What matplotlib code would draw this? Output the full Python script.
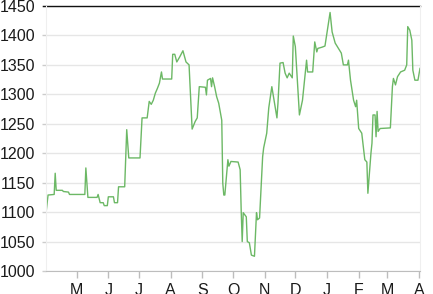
import pandas as pd
import matplotlib
matplotlib.use("Agg")
import matplotlib.pyplot as plt
import matplotlib.dates as mdates
from matplotlib.lines import Line2D

# day offsets from the first date
start_date = "2012-04-01"
day_offsets = [
    0, 2, 8, 9, 10, 16, 17, 22, 23, 38, 39, 41, 50, 51, 53, 56, 57, 60, 61, 66,
    67, 70, 71, 77, 78, 79, 81, 92, 94, 99, 101, 103, 105, 107, 109, 111, 113, 114, 123, 124,
    126, 128, 131, 134, 137, 140, 142, 143, 146, 148, 150, 156, 157, 158, 161, 162, 163, 165, 167, 169,
    172, 173, 174, 175, 178, 179, 181, 188, 190, 191, 192, 193, 196, 197, 199, 201, 204, 206, 207, 209,
    212, 213, 216, 218, 221, 226, 227, 229, 232, 234, 236, 238, 241, 242, 244, 248, 251, 255, 256, 261,
    263, 265, 266, 270, 273, 278, 280, 283, 289, 291, 295, 296, 298, 301, 303, 304, 306, 309, 312, 314,
    315, 318, 319, 320, 322, 323, 324, 325, 327, 337, 339, 340, 342, 344, 347, 351, 353, 354, 356, 358,
    359, 361, 364, 366,
]
prices = [
    1098, 1129, 1130, 1166, 1137, 1137, 1135, 1134, 1130, 1130, 1175, 1125, 1125, 1130, 1116, 1116, 1111, 1111, 1126, 1126,
    1116, 1116, 1143, 1143, 1190, 1240, 1192, 1192, 1260, 1260, 1288, 1283, 1290, 1302, 1310, 1319, 1338, 1326, 1326, 1368,
    1368, 1355, 1364, 1374, 1355, 1350, 1279, 1241, 1254, 1260, 1313, 1312, 1299, 1324, 1327, 1313, 1328, 1313, 1296, 1285,
    1256, 1149, 1129, 1129, 1189, 1178, 1186, 1185, 1172, 1104, 1050, 1099, 1092, 1050, 1048, 1027, 1025, 1099, 1087, 1090,
    1194, 1209, 1234, 1277, 1313, 1260, 1285, 1353, 1354, 1336, 1328, 1336, 1328, 1399, 1381, 1265, 1290, 1358, 1338, 1338,
    1389, 1372, 1378, 1380, 1382, 1439, 1406, 1387, 1370, 1350, 1350, 1358, 1324, 1290, 1279, 1290, 1242, 1234, 1189, 1185,
    1132, 1200, 1217, 1265, 1265, 1228, 1271, 1237, 1242, 1243, 1313, 1327, 1316, 1330, 1338, 1341, 1350, 1415, 1409, 1392,
    1341, 1324, 1324, 1344,
]
y_ticks = [1000, 1050, 1100, 1150, 1200, 1250, 1300, 1350, 1400, 1450]

dates = pd.Timestamp(start_date) + pd.to_timedelta(day_offsets, unit="D")

plt.rcParams['font.family'] = ['Liberation Sans', 'DejaVu Sans']

fig = plt.figure(figsize=(4.33, 2.94), dpi=100)
ax = fig.add_axes([46 / 433, 23 / 294, 374 / 433, 265 / 294])

ax.plot(dates, prices, color="#6cb865", linewidth=1.0)

ax.set_ylim(1000, 1450)
ax.set_yticks(y_ticks)
ax.set_xlim(pd.Timestamp(start_date), pd.Timestamp(start_date) + pd.Timedelta(days=366))

# month ticks, labelled with the first letter of the month
ax.xaxis.set_major_locator(mdates.MonthLocator())
xticks = ax.get_xticks()
ax.set_xticks(xticks)
ax.set_xticklabels([mdates.num2date(v).strftime("%b")[0] for v in xticks])
# first tick (April start) has no label in the reference
ax.get_xticklabels()[0].set_visible(False)
ax.xaxis.get_major_ticks()[0].tick1line.set_visible(False)

ax.grid(axis="y", color="#e6e6e6", linewidth=1)
ax.set_axisbelow(True)

for side in ["left", "right"]:
    ax.spines[side].set_color("#efefef")
ax.spines["top"].set_visible(False)
ax.spines["bottom"].set_color("#bdbdbd")

ax.tick_params(axis="y", length=3, width=1, color="#cccccc", pad=5,
               labelsize=11.5, labelcolor="#1a1a1a")
ax.tick_params(axis="x", length=5, width=1, color="#bdbdbd", pad=3.5,
               labelsize=11.5, labelcolor="#1a1a1a")

# black line along the top of the plot
ax.add_line(Line2D([-0.008, 1.0], [1.0, 1.0], transform=ax.transAxes,
                   color="#111111", linewidth=1.0, clip_on=False))

fig.savefig("out.png", dpi=100)
